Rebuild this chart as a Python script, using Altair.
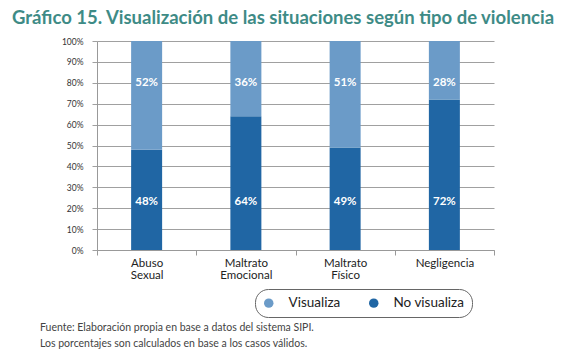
import altair as alt
import pandas as pd

categories = ["Abuso\nSexual", "Maltrato\nEmocional", "Maltrato\nFísico", "Negligencia"]
no_visualiza = [48, 64, 49, 72]
visualiza = [52, 36, 51, 28]
series = ["Visualiza", "No visualiza"]
notes = ["Fuente: Elaboración propia en base a datos del sistema SIPI.",
         "Los porcentajes son calculados en base a los casos válidos."]

rows = []
for c, nv, v in zip(categories, no_visualiza, visualiza):
    rows.append({"cat": c, "serie": "No visualiza", "val": nv / 100, "ord": 0, "lab": f"{nv}%", "pos": 0.23})
    rows.append({"cat": c, "serie": "Visualiza", "val": v / 100, "ord": 1, "lab": f"{v}%", "pos": 0.80})
df = pd.DataFrame(rows)

FONT = "Lato"
x = alt.X("cat:N", sort=categories, title=None,
          scale=alt.Scale(paddingInner=0, paddingOuter=0),
          axis=alt.Axis(labelExpr="split(datum.label, '\\n')", labelAngle=0,
                        tickBand="extent", tickSize=5, tickColor="#999",
                        domainColor="#999", labelFont=FONT, labelFontSize=11.5,
                        labelColor="#222", labelPadding=2, labelLineHeight=12,
                        grid=False))

bars = alt.Chart(df).mark_bar(size=31).encode(
    x=x,
    y=alt.Y("val:Q", stack="zero", title=None,
            scale=alt.Scale(domain=[0, 1], nice=False),
            axis=alt.Axis(format="%", values=[i / 10 for i in range(11)],
                          labelOverlap=False,
                          gridColor="#a0a0a0", gridWidth=1, domainColor="#999",
                          tickColor="#a0a0a0", tickSize=5, labelPadding=9,
                          labelFont=FONT, labelFontSize=8.5, labelColor="#333")),
    color=alt.Color("serie:N", scale=alt.Scale(domain=series, range=["#6b9bc8", "#2066a4"]),
                    title=None,
                    legend=alt.Legend(orient="none", legendX=158, legendY=248,
                                      direction="horizontal", symbolType="circle",
                                      symbolSize=90, labelFont=FONT, labelFontSize=13.5,
                                      labelColor="#222", strokeColor="#666",
                                      cornerRadius=13, padding=7, columnPadding=26,
                                      labelOffset=13)),
    order=alt.Order("ord:Q"),
)

labels = alt.Chart(df).mark_text(color="white", font=FONT, fontWeight="bold", fontSize=11.5).encode(
    x=alt.X("cat:N", sort=categories),
    y=alt.Y("pos:Q", axis=None),
    text="lab:N",
)

foot = alt.Chart(pd.DataFrame({"k": [0]})).mark_text(
    align="left", baseline="alphabetic", font=FONT, fontSize=10.5, color="#444",
    lineHeight=16).encode(
    x=alt.value(-57),
    y=alt.value(290),
    text=alt.value(notes),
)

chart = alt.layer(bars, labels, foot).resolve_axis(y="independent").properties(
    width=397, height=209,
    autosize=alt.AutoSizeParams(type="none"),
    padding={"left": 89, "top": 33, "right": 74, "bottom": 104},
    title=alt.TitleParams("Gráfico 15. Visualización de las situaciones según tipo de violencia",
                          anchor="start", frame="group", dx=-85, offset=10, font=FONT,
                          fontSize=18.5, fontWeight="bold", color="#3e8b86"),
).configure_view(stroke=None)

chart.save("out.html", embed_options={"renderer": "svg", "actions": False})
